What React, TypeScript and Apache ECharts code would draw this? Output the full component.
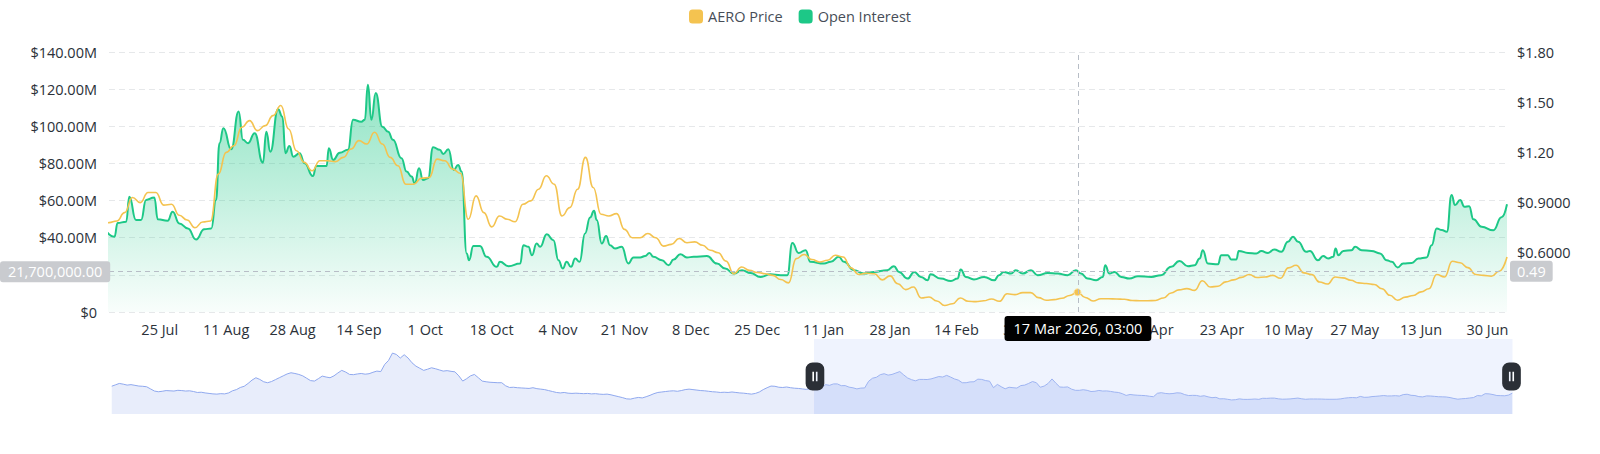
import React, { useEffect, useRef } from "react";
import * as echarts from "echarts";

const FONT = "'Open Sans', 'Noto Sans', sans-serif";
const FONT_SIZE = 14.5;
const PRICE_COLOR = "#F4C350";
const OI_COLOR = "#1DC887";
const AXIS_TEXT = "#2B3139";

const SERIES_NAMES = ["AERO Price", "Open Interest"];
const MONTHS = ["Jan", "Feb", "Mar", "Apr", "May", "Jun", "Jul", "Aug", "Sep", "Oct", "Nov", "Dec"];

// day 0 = 25 Jul 2025 (UTC); x positions are day offsets from it
const DAY0 = Date.UTC(2025, 6, 25);
const DAY_MS = 86400000;

// x-axis tick labels (every 17 days)
const X_TICK_DAYS = [0, 17, 34, 51, 68, 85, 102, 119, 136, 153, 170, 187, 204, 221, 238, 255, 272, 289, 306, 323, 340];
// right axis tick labels
const RIGHT_TICKS = [0.3, 0.6, 0.9, 1.2, 1.5, 1.8];

// visible window of the main chart (dataZoom)
const VIEW_START_DAY = -13;
const VIEW_END_DAY = 345;

// crosshair state in the picture
const CURSOR_DAY = 235.125; // 17 Mar 2026, 03:00
const CURSOR_OI_M = 21.7;
const CURSOR_PRICE = 0.49;

// AERO price, one reading every 2 days from 17 Jul 2024 (day -373)
const PRICE_FIRST_DAY = -373;
const PRICE_STEP_DAYS = 2;
// previous year (only visible in the slider)
const PRICE_PREV_YEAR = [
  0.86, 0.92, 0.98, 0.95, 0.91, 0.93, 0.9, 0.87, 0.86, 0.84,
  0.75, 0.66, 0.63, 0.65, 0.68, 0.67, 0.66, 0.69, 0.68, 0.66,
  0.67, 0.64, 0.6, 0.61, 0.58, 0.56, 0.54, 0.53, 0.55, 0.54,
  0.58, 0.67, 0.72, 0.81, 0.86, 0.98, 1.12, 1.22, 1.15, 1.05,
  1.01, 1.06, 1.14, 1.22, 1.3, 1.38, 1.43, 1.4, 1.36, 1.3,
  1.2, 1.1, 1.08, 1.18, 1.29, 1.25, 1.22, 1.3, 1.42, 1.53,
  1.46, 1.36, 1.35, 1.38, 1.4, 1.37, 1.39, 1.45, 1.5, 1.48,
  1.78, 1.95, 2.26, 2.2, 2.05, 2.19, 2.05, 1.85, 1.71, 1.62,
  1.53, 1.58, 1.64, 1.6, 1.55, 1.5, 1.52, 1.49, 1.47, 1.3,
  1.08, 1.18, 1.3, 1.36, 1.22, 1.08, 1.05, 1.03, 1.02, 1.01,
  1.01, 0.88, 0.81, 0.82, 0.8, 0.79, 0.78, 0.77, 0.8, 0.76,
  0.74, 0.72, 0.68, 0.64, 0.6, 0.58, 0.6, 0.57, 0.56, 0.57,
  0.56, 0.55, 0.56, 0.54, 0.55, 0.53, 0.52, 0.53, 0.5, 0.46,
  0.42, 0.38, 0.33, 0.32, 0.36, 0.39, 0.37, 0.42, 0.48, 0.55,
  0.6, 0.62, 0.64, 0.66, 0.67, 0.65, 0.68, 0.72, 0.74, 0.72,
  0.7, 0.68, 0.67, 0.65, 0.63, 0.62, 0.6, 0.61, 0.6, 0.62,
  0.6, 0.58, 0.57, 0.55, 0.53, 0.56, 0.62, 0.72, 0.8, 0.87,
  0.86, 0.82, 0.81, 0.83, 0.8, 0.78, 0.77, 0.75, 0.73, 0.76,
];
// shown year (day -13 .. 345)
const PRICE_SHOWN = [
  0.78, 0.79, 0.84, 0.93, 0.9, 0.96, 0.96, 0.885, 0.89, 0.824,
  0.796, 0.75, 0.784, 0.79, 1.07, 1.2, 1.24, 1.35, 1.39, 1.33,
  1.36, 1.42, 1.48, 1.34, 1.21, 1.14, 1.09, 1.15, 1.15, 1.145,
  1.17, 1.22, 1.27, 1.25, 1.32, 1.25, 1.17, 1.12, 1.01, 1.01,
  1.045, 1.05, 1.16, 1.15, 1.1, 1.075, 0.8, 0.94, 0.84, 0.755,
  0.82, 0.8, 0.785, 0.89, 0.91, 0.98, 1.06, 1.01, 0.82, 0.87,
  0.98, 1.17, 0.99, 0.83, 0.82, 0.834, 0.74, 0.69, 0.69, 0.715,
  0.69, 0.64, 0.65, 0.685, 0.66, 0.665, 0.645, 0.615, 0.6, 0.55,
  0.475, 0.515, 0.495, 0.482, 0.475, 0.465, 0.44, 0.42, 0.565, 0.59,
  0.56, 0.545, 0.555, 0.585, 0.575, 0.51, 0.47, 0.478, 0.475, 0.438,
  0.462, 0.415, 0.38, 0.395, 0.33, 0.336, 0.312, 0.285, 0.295, 0.33,
  0.31, 0.308, 0.313, 0.324, 0.31, 0.355, 0.35, 0.362, 0.362, 0.332,
  0.316, 0.32, 0.328, 0.345, 0.364, 0.333, 0.312, 0.325, 0.325, 0.324,
  0.322, 0.315, 0.313, 0.313, 0.315, 0.33, 0.36, 0.378, 0.386, 0.375,
  0.433, 0.395, 0.4, 0.426, 0.438, 0.453, 0.47, 0.452, 0.455, 0.465,
  0.448, 0.51, 0.525, 0.48, 0.47, 0.425, 0.413, 0.455, 0.45, 0.436,
  0.42, 0.416, 0.41, 0.385, 0.346, 0.316, 0.335, 0.345, 0.366, 0.385,
  0.47, 0.455, 0.549, 0.54, 0.511, 0.47, 0.465, 0.46, 0.49, 0.575,
];

// Open interest, [day offset, million USD]
const OI_POINTS: [number, number][] = [
  [-14, 44.5], [-11.6, 40.5], [-10.8, 47.9], [-8.6, 48.6], [-7.8, 62], [-6.1, 49.5], [-4.8, 49.5], [-3.5, 60.3],
  [-1.4, 61.7], [-0.5, 49.9], [2, 49.1], [3.3, 54], [5, 47.7], [7.2, 45], [9.3, 39], [11.4, 44.5], [13.2, 45],
  [14.4, 60.3], [15.3, 90.9], [16.3, 99], [18.3, 87.6], [20.2, 108], [21.3, 92.7], [22.6, 90.9], [24.3, 96.3],
  [26.4, 80.4], [27.3, 97.1], [28.3, 86.3], [30.3, 109.2], [31.4, 105.2], [32.2, 85.5], [33.2, 89.4], [34.2, 83.6],
  [35.8, 85.5], [37.1, 80.1], [39.2, 73.2], [40.1, 78.6], [42.7, 78.6], [43.3, 88.2], [44.4, 81.9], [46.1, 85.8],
  [48.2, 87.3], [49.5, 103.5], [51.6, 102.5], [52.5, 103.5], [53.3, 122.3], [54.2, 103.5], [55.3, 117.9], [57, 99.8],
  [58.5, 97.1], [59.7, 92.7], [61.9, 82.8], [63.2, 75.6], [64.5, 72.9], [65.3, 69.3], [66.4, 77.4], [67.4, 71.1],
  [68.7, 72], [70, 88.7], [71.7, 87.3], [72.6, 85.1], [73.9, 87.6], [75.3, 76.5], [76.4, 79.2], [77.3, 75.6],
  [78.6, 31.5], [79.2, 27.9], [80.3, 35.5], [82, 35.5], [83.7, 29.7], [86.3, 24.3], [87.1, 27], [89.3, 24.7],
  [92.3, 26.1], [93.1, 36], [94.4, 35.1], [95.3, 30.6], [96.5, 36.9], [97.4, 35.1], [99.1, 41.9], [100.8, 38.7],
  [102.1, 27.9], [103.2, 23.4], [104.2, 27], [105.3, 24.3], [106.4, 28.8], [107.5, 27], [108.9, 42.3], [110.2, 50.9],
  [111.2, 54.5], [111.9, 49.5], [113.2, 36.9], [114.3, 40.9], [115.3, 36], [116.6, 34.2], [118.3, 35.1], [120, 26.1],
  [121.3, 29.4], [123, 29.4], [124.3, 30.1], [125.4, 31.8], [126.4, 29.7], [128.6, 27.9], [130.3, 25.2], [131.6, 28.3],
  [133.3, 31.1], [135, 29.4], [136.7, 29.7], [140.1, 30.1], [142.7, 26.1], [144.8, 23.4], [147, 20.7], [149.1, 22.5],
  [151.3, 21], [153.8, 18.9], [156.4, 20.3], [159, 19.8], [160.7, 19.8], [162, 37.2], [163.6, 31.8], [165.4, 33.3],
  [166.6, 27], [170.1, 26.1], [171.8, 27], [173.9, 29.7], [175.2, 27], [177.8, 22.5], [180.3, 20.7], [182.9, 21.6],
  [186.3, 22.5], [188, 24.7], [189.3, 21.6], [191.5, 18], [193.2, 21.6], [194.9, 18.9], [196.6, 17.1], [197.4, 20.3],
  [200, 18], [202.6, 16.7], [204.3, 18], [205.1, 22.9], [206.4, 18.9], [208.5, 17.5], [211.1, 18.9], [213.7, 17.1],
  [214.9, 19.8], [216.1, 21.6], [218, 20.7], [219.2, 22.5], [221, 20.7], [223.1, 22.5], [224.8, 19.8], [227.4, 21],
  [229.9, 20.7], [232.5, 19.8], [234.6, 22.5], [235.9, 20.7], [237.6, 18], [239.8, 17.1], [241.5, 18.9], [242.1, 25.2],
  [243.2, 20.7], [244.5, 21.6], [246.2, 18.9], [248.3, 18], [250.5, 19.3], [253.9, 18.9], [256.4, 19.8], [259, 24.3],
  [261.1, 27.5], [263.3, 24.7], [265, 25.2], [266.3, 28.8], [267.1, 33.3], [268.4, 26.1], [271, 25.7], [271.8, 30.6],
  [273.5, 30.6], [274.4, 28.3], [275.7, 28.3], [276.3, 32.9], [278.7, 31.8], [280.8, 31.5], [282.1, 32.8], [283.8, 31.8],
  [285.4, 33.7], [287.2, 32.4], [288.9, 37.8], [290.2, 40.5], [291.5, 37.8], [293.6, 32.4], [294.5, 32.9], [296.6, 27.9],
  [297.9, 30.1], [299.2, 28.8], [300.5, 29.7], [301.1, 34.2], [301.8, 30.6], [303.1, 32.9], [305.2, 33.3], [306.1, 35.1],
  [307.8, 33.3], [310.3, 32.9], [312.5, 31.5], [314.2, 27.9], [315.5, 27], [317, 24], [318.4, 26.1], [320.6, 26.4],
  [322.3, 28.8], [324.4, 29.4], [325.7, 36], [327, 45], [328.3, 44.1], [329.6, 43.2], [330.8, 63], [331.7, 57.6],
  [333, 60.3], [334.1, 56.7], [335.3, 57], [336.4, 49.9], [338.5, 45.9], [341.5, 44], [343.6, 51], [345, 58],
];

function dayDate(d: number) {
  return new Date(DAY0 + d * DAY_MS);
}
function fmtDay(d: number) {
  const t = dayDate(d);
  return `${t.getUTCDate()} ${MONTHS[t.getUTCMonth()]}`;
}
function fmtDayTime(d: number) {
  const t = dayDate(d);
  const hh = String(t.getUTCHours()).padStart(2, "0");
  const mm = String(t.getUTCMinutes()).padStart(2, "0");
  return `${t.getUTCDate()} ${MONTHS[t.getUTCMonth()]} ${t.getUTCFullYear()}, ${hh}:${mm}`;
}
function fmtPrice(v: number) {
  return v >= 1 ? "$" + v.toFixed(2) : "$" + v.toFixed(4);
}

const HANDLE_ICON =
  "path://M6,0H10A6,6,0,0,1,16,6V18A6,6,0,0,1,10,24H6A6,6,0,0,1,0,18V6A6,6,0,0,1,6,0Z M5.8,8V16H7.2V8Z M8.8,8V16H10.2V8Z";

export default function App() {
  const ref = useRef<HTMLDivElement>(null);

  useEffect(() => {
    const chart = echarts.init(ref.current!, null, { renderer: "svg" });
    const price = [...PRICE_PREV_YEAR, ...PRICE_SHOWN];
    const cursorIdx = Math.round(CURSOR_DAY);
    const priceData = price.map((v, i) => {
      const d = PRICE_FIRST_DAY + i * PRICE_STEP_DAYS;
      if (d === cursorIdx) {
        return {
          value: [d, v],
          symbol: "circle",
          symbolSize: 7,
          itemStyle: { color: PRICE_COLOR, borderColor: "#FBE3A6", borderWidth: 1 },
        };
      }
      return [d, v];
    });
    const oiData = OI_POINTS.map(([d, m]) => [d, m]);

    const pointerLine = { color: "#B7BDC6", type: [5, 4], width: 1 };

    const option: any = {
      animation: false,
      textStyle: { fontFamily: FONT },
      legend: {
        data: SERIES_NAMES,
        top: 4,
        left: "center",
        icon: "roundRect",
        itemWidth: 14,
        itemHeight: 14,
        itemGap: 16,
        textStyle: { fontSize: FONT_SIZE, color: "#474D57", fontFamily: FONT },
      },
      grid: { left: 109, right: 93, top: 52, bottom: 142, containLabel: false, outerBoundsMode: "none" },
      xAxis: {
        type: "value",
        min: PRICE_FIRST_DAY,
        max: VIEW_END_DAY,
        axisLine: { show: false },
        axisTick: { show: false },
        splitLine: { show: false },
        axisLabel: {
          customValues: X_TICK_DAYS,
          formatter: (v: number) => fmtDay(v),
          color: AXIS_TEXT,
          fontSize: FONT_SIZE,
          margin: 10,
          fontFamily: FONT,
        },
        axisPointer: {
          show: true,
          type: "line",
          snap: false,
          triggerTooltip: false,
          status: "show",
          value: CURSOR_DAY,
          lineStyle: pointerLine,
          label: {
            show: true,
            formatter: (p: any) => fmtDayTime(p.value),
            backgroundColor: "#000000",
            color: "#FFFFFF",
            fontSize: FONT_SIZE,
            fontFamily: FONT,
            padding: [5, 9],
            borderRadius: 3,
            shadowBlur: 0,
            margin: 4,
          },
        },
      },
      yAxis: [
        {
          type: "value",
          position: "left",
          min: 0,
          max: 140,
          interval: 20,
          axisLine: { show: false },
          axisTick: { show: false },
          splitLine: { show: true, lineStyle: { color: "#E6E8EA", type: [6, 4] } },
          axisLabel: {
            formatter: (v: number) => (v === 0 ? "$0" : "$" + v.toFixed(2) + "M"),
            color: AXIS_TEXT,
            fontSize: FONT_SIZE,
            margin: 12,
            fontFamily: FONT,
          },
          axisPointer: {
            show: true,
            type: "line",
            snap: false,
            triggerTooltip: false,
            status: "show",
            value: CURSOR_OI_M,
            lineStyle: pointerLine,
            label: {
              show: true,
              formatter: (p: any) =>
                (p.value * 1e6).toLocaleString("en-US", { minimumFractionDigits: 2, maximumFractionDigits: 2 }),
              backgroundColor: "#C9CBCF",
              color: "#FFFFFF",
              fontSize: FONT_SIZE,
              fontFamily: FONT,
              padding: [3, 8],
              borderRadius: 3,
              shadowBlur: 0,
            },
          },
        },
        {
          type: "value",
          position: "right",
          min: 0.246,
          max: 1.8,
          splitNumber: 5,
          axisLine: { show: false },
          axisTick: { show: false },
          splitLine: { show: false },
          axisLabel: {
            customValues: RIGHT_TICKS,
            showMinLabel: false,
            formatter: (v: number) => fmtPrice(v),
            color: AXIS_TEXT,
            fontSize: FONT_SIZE,
            margin: 10,
            fontFamily: FONT,
          },
          axisPointer: {
            show: true,
            type: "line",
            snap: false,
            triggerTooltip: false,
            status: "show",
            value: CURSOR_PRICE,
            lineStyle: pointerLine,
            label: {
              show: true,
              formatter: (p: any) => Number(p.value).toFixed(2),
              backgroundColor: "#C9CBCF",
              color: "#FFFFFF",
              fontSize: FONT_SIZE,
              fontFamily: FONT,
              padding: [3, 7],
              borderRadius: 3,
              shadowBlur: 0,
            },
          },
        },
      ],
      dataZoom: [
        {
          type: "slider",
          xAxisIndex: 0,
          filterMode: "none",
          startValue: VIEW_START_DAY,
          endValue: VIEW_END_DAY,
          left: 109,
          right: 90,
          top: 339,
          height: 75,
          backgroundColor: "rgba(0,0,0,0)",
          borderColor: "rgba(0,0,0,0)",
          fillerColor: "rgba(196, 212, 250, 0.28)",
          showDetail: false,
          showDataShadow: true,
          brushSelect: false,
          moveHandleSize: 0,
          moveHandleStyle: { opacity: 0 },
          handleIcon: HANDLE_ICON,
          handleSize: 28,
          handleStyle: { color: "#2B2F36", borderWidth: 0, opacity: 1 },
          emphasis: { handleStyle: { color: "#2B2F36", borderWidth: 0 }, moveHandleStyle: { opacity: 0 } },
          dataBackground: {
            lineStyle: { color: "#8FA8EE", width: 1, opacity: 1 },
            areaStyle: { color: "#E8EDFB", opacity: 1 },
          },
          selectedDataBackground: {
            lineStyle: { color: "#8FA8EE", width: 1, opacity: 1 },
            areaStyle: { color: "#DCE4FA", opacity: 1 },
          },
        },
      ],
      series: [
        {
          name: SERIES_NAMES[0],
          type: "line",
          yAxisIndex: 1,
          data: priceData,
          smooth: 0.5,
          smoothMonotone: "x",
          symbol: "none",
          showSymbol: true,
          lineStyle: { color: PRICE_COLOR, width: 1.6 },
          itemStyle: { color: PRICE_COLOR },
          z: 3,
          silent: true,
        },
        {
          name: SERIES_NAMES[1],
          type: "line",
          yAxisIndex: 0,
          data: oiData,
          smooth: 0.5,
          smoothMonotone: "x",
          symbol: "none",
          showSymbol: false,
          lineStyle: { color: OI_COLOR, width: 2 },
          itemStyle: { color: OI_COLOR },
          areaStyle: {
            color: new echarts.graphic.LinearGradient(0, 0, 0, 1, [
              { offset: 0, color: "rgba(29, 200, 135, 0.7)" },
              { offset: 1, color: "rgba(29, 200, 135, 0.04)" },
            ]),
          },
          z: 2,
          silent: true,
        },
      ],
    };

    chart.setOption(option);
    return () => chart.dispose();
  }, []);

  return (
    <div
      ref={ref}
      style={{ position: "fixed", left: 0, top: 0, width: 1600, height: 454, background: "#fff" }}
    />
  );
}
